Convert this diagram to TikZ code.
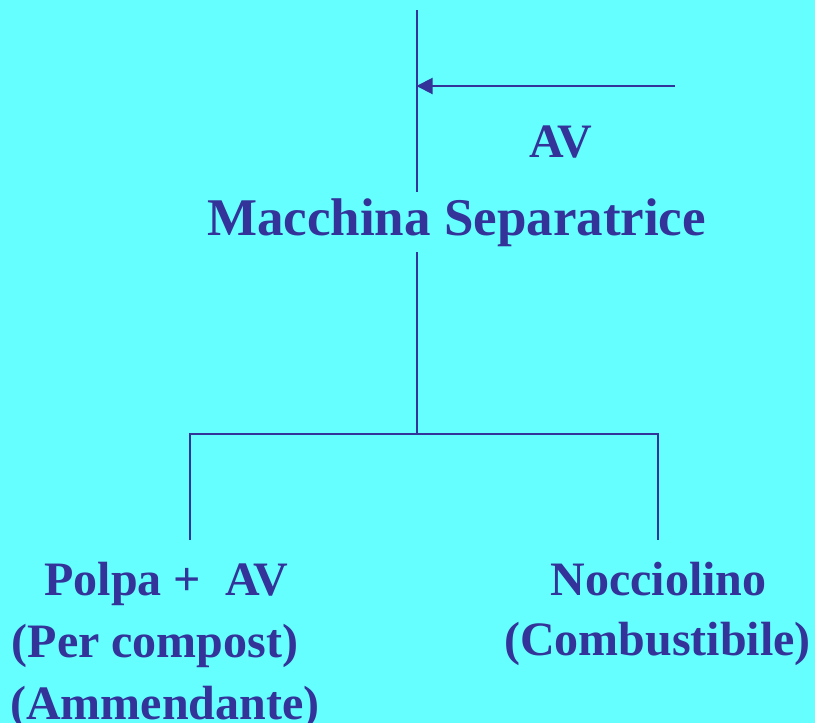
\documentclass[tikz,border=0pt]{standalone}
\usepackage{fontspec}
\setmainfont{Liberation Serif}
\usetikzlibrary{arrows.meta}
\definecolor{bgcyan}{RGB}{102,255,255}
\definecolor{inkblue}{RGB}{51,51,153}
\tikzset{
  flow/.style={draw=inkblue, line width=2pt},
  label48/.style={text=inkblue, font=\fontsize{48}{48}\selectfont\bfseries, inner sep=0pt, anchor=base},
  title53/.style={text=inkblue, font=\fontsize{53}{53}\selectfont\bfseries, inner sep=6pt, anchor=base},
}
\begin{document}
\begin{tikzpicture}[x=1pt, y=-1pt]
  % canvas
  \fill[bgcyan] (0,0) rectangle (815,723);
  \useasboundingbox (0,0) rectangle (815,723);

  % main line and inputs
  \coordinate (top) at (416.5,10);
  \coordinate (avsrc) at (675,86);
  \node[title53] (mac) at (456.5,235) {Macchina Separatrice};
  \node[label48] (av) at (561,157) {AV};
  \draw[flow] (top) -- (mac.north -| top);
  \draw[flow, -{Triangle[length=16pt,width=16pt]}] (avsrc) -- (avsrc -| top);

  % split into the two products
  \coordinate (split) at (416.5,434);
  \coordinate (lcorner) at (190,434);
  \coordinate (rcorner) at (658,434);
  \coordinate (lend) at (190,540);
  \coordinate (rend) at (658,540);
  \draw[flow] (mac.south -| top) -- (split);
  \draw[flow] (lend) -- (lcorner) -- (rcorner) -- (rend);

  % left product
  \node[label48] (pulp) at (166.5,595) {Polpa +\ \ AV};
  \node[label48] (compost) at (155,657) {(Per compost)};
  \node[label48] (amend) at (165,719) {(Ammendante)};

  % right product
  \node[label48] (pit) at (658.5,595) {Nocciolino};
  \node[label48] (fuel) at (657.5,655) {(Combustibile)};
\end{tikzpicture}
\end{document}
